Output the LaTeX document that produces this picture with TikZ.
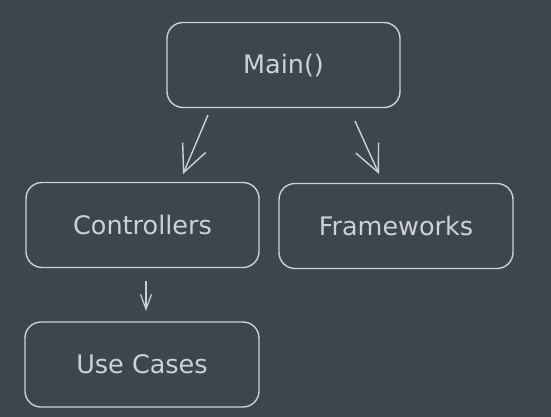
\documentclass[tikz,border=0pt]{standalone}
\usepackage{fontspec}
\setmainfont{DejaVu Sans}
\usetikzlibrary{arrows.meta}

\definecolor{slate}{HTML}{3B464E}
\definecolor{chalk}{HTML}{CDD1D5}

\tikzset{
  layer/.style={draw=chalk, line width=1.4pt, rounded corners=16pt, text=chalk,
    minimum width=233pt, minimum height=85pt, inner sep=0pt,
    font=\fontsize{25.5}{30}\selectfont},
  bigarrow/.style={draw=chalk, line width=1.4pt, -{Straight Barb[length=27pt,width=25pt,line width=1.4pt]}},
  smallarrow/.style={draw=chalk, line width=1.2pt, -{Straight Barb[length=15pt,width=11pt,line width=1.2pt]}}
}

\begin{document}
\begin{tikzpicture}[x=1pt,y=-1pt]
\fill[slate] (0,0) rectangle (551,417);
\useasboundingbox (0,0) rectangle (551,417);

\node[layer] (main) at (283.5,65) {Main()};
\node[layer] (ctrl) at (142.5,225) {Controllers};
\node[layer, minimum width=234pt] (frame) at (396,226) {Frameworks};
\node[layer, minimum width=234pt] (usecase) at (142,364.5) {Use Cases};

% arrows
\coordinate (m1) at (208,115);
\coordinate (c1) at (183,174);
\coordinate (m2) at (355,121);
\coordinate (f1) at (379,174);
\coordinate (c2) at (146,281);
\coordinate (u1) at (146,311);
\draw[bigarrow] (m1) -- (c1);
\draw[bigarrow] (m2) -- (f1);
\draw[smallarrow] (c2) -- (u1);
\end{tikzpicture}
\end{document}
